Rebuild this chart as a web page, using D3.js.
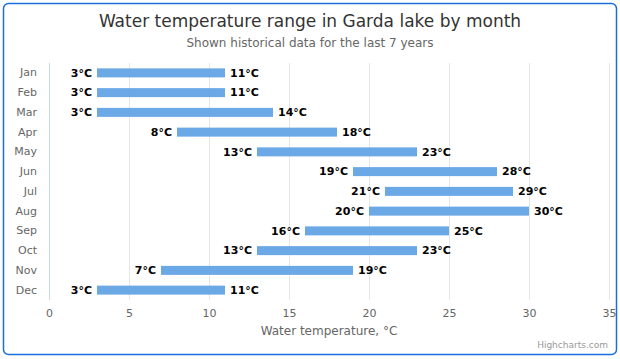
<!DOCTYPE html>
<html><head><meta charset="utf-8">
<script src="https://cdn.jsdelivr.net/npm/d3@7"></script>
<style>
html,body{margin:0;padding:0;background:#fff;}
svg{display:block;font-family:"DejaVu Sans",Verdana,sans-serif;}
</style></head>
<body>
<svg id="chart" width="620" height="359"></svg>
<script>
const categories = ["Jan","Feb","Mar","Apr","May","Jun","Jul","Aug","Sep","Oct","Nov","Dec"];
const lows  = [3,3,3,8,13,19,21,20,16,13,7,3];
const highs = [11,11,14,18,23,28,29,30,25,23,19,11];
const xTicks = [0,5,10,15,20,25,30,35];
const titleText = "Water temperature range in Garda lake by month";
const subtitleText = "Shown historical data for the last 7 years";
const axisTitle = "Water temperature, °C";

const svg = d3.select("#chart");
const W = 620, H = 359;
const plot = {left:49, right:609, top:63, bottom:300};

svg.append("rect").attr("x",3.5).attr("y",3.5).attr("width",W-7).attr("height",H-8)
  .attr("rx",5).attr("fill","#fff").attr("stroke","#1a6fdc").attr("stroke-width",1.5);

const x = d3.scaleLinear().domain([0,35]).range([plot.left, plot.right]);
const y = d3.scaleBand().domain(categories).range([plot.top, plot.bottom]);

// grid
svg.append("g").selectAll("line").data(xTicks.slice(1)).join("line")
  .attr("x1",d=>Math.round(x(d))+0.5).attr("x2",d=>Math.round(x(d))+0.5)
  .attr("y1",plot.top).attr("y2",plot.bottom)
  .attr("stroke","#e6e6e6");
// category axis line
svg.append("line").attr("x1",plot.left+0.5).attr("x2",plot.left+0.5)
  .attr("y1",plot.top).attr("y2",plot.bottom).attr("stroke","#ccd6eb");

// x tick labels via axis
const xAxis = d3.axisBottom(x).tickValues(xTicks).tickSize(0).tickPadding(0);
const gx = svg.append("g").attr("transform",`translate(0,${plot.bottom+9})`).call(xAxis);
gx.select(".domain").remove();
gx.selectAll("text").attr("fill","#666").style("font-size","11px")
  .style("font-family","DejaVu Sans, sans-serif");

// category labels
const yAxis = d3.axisLeft(y).tickSize(0).tickPadding(0);
const gy = svg.append("g").attr("transform",`translate(${plot.left-12},0)`).call(yAxis);
gy.select(".domain").remove();
gy.selectAll("text").attr("fill","#666").style("font-size","11px")
  .style("font-family","DejaVu Sans, sans-serif");

// bars
const data = categories.map((c,i)=>({c, lo:lows[i], hi:highs[i]}));
const bh = 9;
svg.append("g").selectAll("rect").data(data).join("rect")
  .attr("x",d=>x(d.lo)).attr("width",d=>x(d.hi)-x(d.lo))
  .attr("y",d=>y(d.c)+y.bandwidth()/2-bh/2).attr("height",bh)
  .attr("fill","#6aa8e6");

const lbl = svg.append("g").style("font-size","11px").style("font-weight","bold").attr("fill","#000");
lbl.selectAll("text.lo").data(data).join("text").attr("class","lo")
  .attr("x",d=>x(d.lo)-5).attr("y",d=>y(d.c)+y.bandwidth()/2).attr("dy","0.35em")
  .attr("text-anchor","end").text(d=>d.lo+"°C");
lbl.selectAll("text.hi").data(data).join("text").attr("class","hi")
  .attr("x",d=>x(d.hi)+5).attr("y",d=>y(d.c)+y.bandwidth()/2).attr("dy","0.35em")
  .attr("text-anchor","start").text(d=>d.hi+"°C");

// titles
svg.append("text").attr("x",W/2).attr("y",27).attr("text-anchor","middle")
  .attr("fill","#333").style("font-size","17px").text(titleText);
svg.append("text").attr("x",W/2).attr("y",47).attr("text-anchor","middle")
  .attr("fill","#666").style("font-size","12px").text(subtitleText);
svg.append("text").attr("x",(plot.left+plot.right)/2).attr("y",335).attr("text-anchor","middle")
  .attr("fill","#666").style("font-size","12px").text(axisTitle);
svg.append("text").attr("x",608).attr("y",348).attr("text-anchor","end")
  .attr("fill","#999").style("font-size","9px").text("Highcharts.com");
</script>
</body></html>
